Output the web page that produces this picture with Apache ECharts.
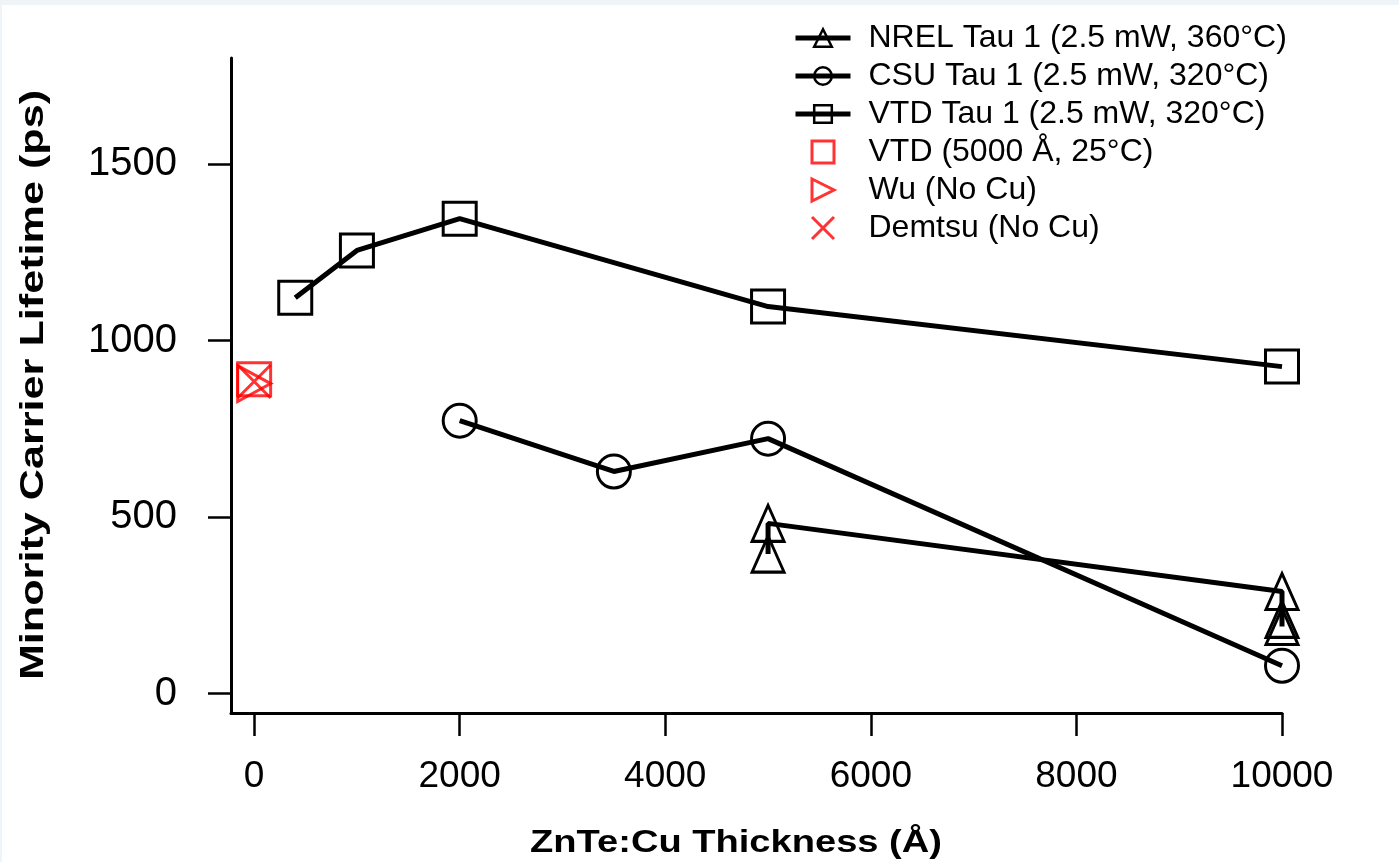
<!DOCTYPE html>
<html>
<head>
<meta charset="utf-8">
<script src="https://cdn.jsdelivr.net/npm/echarts@6/dist/echarts.min.js"></script>
<style>
html,body{margin:0;padding:0;background:#fff;}
#c{width:1399px;height:862px;}
</style>
</head>
<body>
<div id="c"></div>
<script>
// Data
var xTicks = [0, 2000, 4000, 6000, 8000, 10000];
var yTicks = [0, 500, 1000, 1500];
var nrelData = [[5000, 395], [5000, 482], [10000, 289], [10000, 210], [10000, 190]];
var csuData = [[2000, 773], [3500, 629], [5000, 722], [10000, 79]];
var vtdData = [[400, 1121], [1000, 1255], [2000, 1345], [5000, 1096], [10000, 926]];
var vtd25Data = [[0, 890]];
var wuData = [[0, 878]];
var demtsuData = [[0, 884]];
var names = ['NREL Tau 1 (2.5 mW, 360°C)', 'CSU Tau 1 (2.5 mW, 320°C)', 'VTD Tau 1 (2.5 mW, 320°C)', 'VTD (5000 Å, 25°C)', 'Wu (No Cu)', 'Demtsu (No Cu)'];

var chart = echarts.init(document.getElementById('c'), null, {renderer: 'canvas'});
var FONT = 'Liberation Sans, Arial, Helvetica, sans-serif';
var SQ = 'path://M0,0H10V10H0Z';
var TRI_R = 'path://M0,0L10,5L0,10Z';
var XM = 'path://M0,0L10,10M10,0L0,10';
function lineSeries(name, data, symbol, size) {
  return {
    name: name, type: 'line', data: data, symbol: symbol, symbolSize: size,
    showSymbol: true, showAllSymbol: true,
    lineStyle: {color: '#000', width: 5},
    itemStyle: {color: 'rgba(0,0,0,0)', borderColor: '#000', borderWidth: 3},
    emphasis: {disabled: true}, z: 3
  };
}
function redSeries(name, data, symbol, size) {
  return {
    name: name, type: 'scatter', data: data, symbol: symbol, symbolSize: size,
    symbolKeepAspect: true,
    itemStyle: {color: 'rgba(0,0,0,0)', borderColor: '#ff0000', borderWidth: 3},
    emphasis: {disabled: true}, z: 4
  };
}
var lineLegend = function (n) {
  return {name: n, lineStyle: {width: 5, color: '#000'}, itemStyle: {borderWidth: 2.5, borderColor: '#000', color: 'rgba(0,0,0,0)'}};
};
var redLegend = function (n, icon) {
  return {name: n, icon: icon, itemStyle: {borderWidth: 3, borderColor: '#ff0000', color: 'rgba(0,0,0,0)'}};
};
var fmt = function (v) { return String(v); };
var option = {
  animation: false,
  backgroundColor: '#fff',
  grid: {left: 231, right: 117, top: 58, bottom: 149, containLabel: false},
  legend: {
    orient: 'vertical', left: 793, top: 22, padding: 0,
    itemWidth: 55, itemHeight: 22, itemGap: 6,
    symbolKeepAspect: true,
    textStyle: {fontFamily: FONT, fontSize: 32, color: '#000', padding: [0, 0, 0, 13]},
    data: [lineLegend(names[0]), lineLegend(names[1]), lineLegend(names[2]),
      redLegend(names[3], SQ), redLegend(names[4], TRI_R), redLegend(names[5], XM)]
  },
  xAxis: {
    type: 'value', min: -225, max: 10000,
    axisLine: {show: true, onZero: false, lineStyle: {color: '#000', width: 3}},
    axisTick: {show: true, length: 23, lineStyle: {color: '#000', width: 2.5}, customValues: xTicks},
    axisLabel: {color: '#000', fontFamily: FONT, fontSize: 37, margin: 45, customValues: xTicks, formatter: fmt},
    splitLine: {show: false}
  },
  yAxis: {
    type: 'value', min: -55, max: 1800,
    axisLine: {show: true, onZero: false, lineStyle: {color: '#000', width: 3}},
    axisTick: {show: true, length: 23, lineStyle: {color: '#000', width: 2.5}, customValues: yTicks},
    axisLabel: {color: '#000', fontFamily: FONT, fontSize: 40, margin: 54, customValues: yTicks, formatter: fmt},
    splitLine: {show: false}
  },
  graphic: [
    {type: 'rect', shape: {x: 0, y: 0, width: 1399, height: 5}, style: {fill: '#eff4f9'}, silent: true},
    {type: 'rect', shape: {x: 0, y: 0, width: 2, height: 862}, style: {fill: '#eff4f9'}, silent: true},
    {type: 'text', x: 34, y: 385, rotation: Math.PI / 2, scaleX: 1.27, scaleY: 1,
      style: {text: 'Minority Carrier Lifetime (ps)', font: 'bold 34px ' + FONT, fill: '#000', textAlign: 'center', textVerticalAlign: 'middle'}},
    {type: 'text', x: 736, y: 843, scaleX: 1.19, scaleY: 1,
      style: {text: 'ZnTe:Cu Thickness (Å)', font: 'bold 32px ' + FONT, fill: '#000', textAlign: 'center', textVerticalAlign: 'middle'}}
  ],
  series: [
    lineSeries(names[0], nrelData, 'triangle', [32, 36]),
    lineSeries(names[1], csuData, 'circle', 33),
    lineSeries(names[2], vtdData, 'rect', 33),
    redSeries(names[3], vtd25Data, SQ, 33),
    redSeries(names[4], wuData, TRI_R, [33, 36]),
    redSeries(names[5], demtsuData, XM, 33)
  ]
};
chart.setOption(option);
</script>
</body>
</html>
